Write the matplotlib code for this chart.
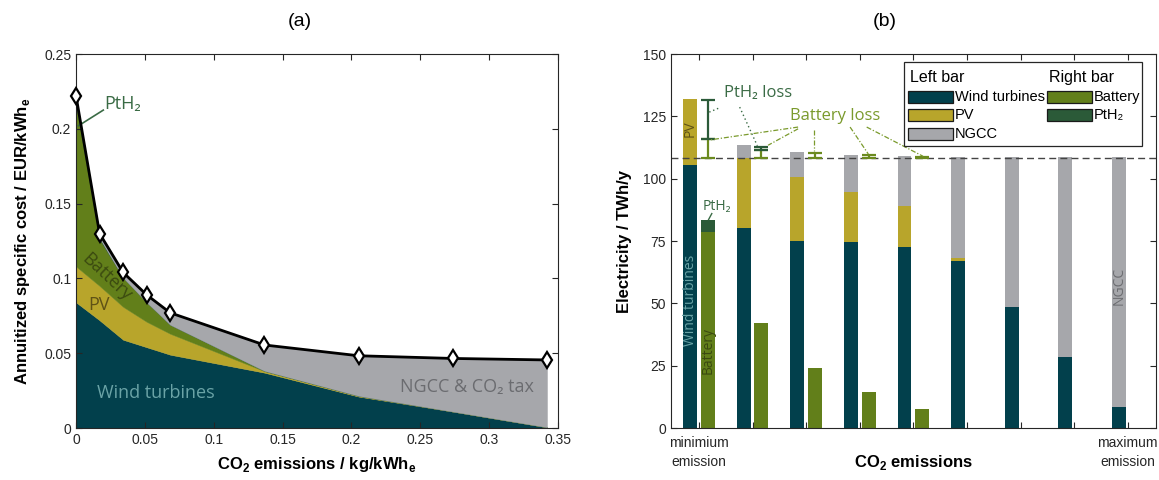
import matplotlib
matplotlib.use('Agg')
import matplotlib.pyplot as plt
from matplotlib.patches import Rectangle
from matplotlib.ticker import FormatStrFormatter
import numpy as np

plt.rcParams['font.family'] = ['Liberation Sans', 'DejaVu Sans']
plt.rcParams['mathtext.fontset'] = 'custom'
plt.rcParams['mathtext.rm'] = 'Liberation Sans'
plt.rcParams['mathtext.bf'] = 'Liberation Sans:bold'

LABEL_FONT = ['Open Sans', 'DejaVu Sans']

# colours
WIND = '#02404c'
PV = '#b8a52b'
NGCC = '#a6a7ab'
BATT = '#627f1a'
PTH2 = '#2b5a38'
BATT_LOSS = '#7a9a2c'
PTH2_TXT = '#3a6b45'
WIND_TXT = '#6aa3a6'
BATT_DARK = '#3b4a10'
PV_DARK = '#5f5216'
NGCC_TXT = '#6b6c70'

# ---- (a) specific cost vs CO2 emissions ----
emissions = [0.0, 0.0171, 0.0342, 0.0513, 0.0684, 0.1368, 0.2052, 0.2736, 0.342]
cost_wind = [0.084, 0.072, 0.059, 0.054, 0.049, 0.037, 0.021, 0.011, 0.0005]
cost_pv = [0.024, 0.023, 0.022, 0.017, 0.014, 0.001, 0.0005, 0.0, 0.0]
cost_battery = [0.108, 0.031, 0.0195, 0.013, 0.006, 0.0002, 0.0, 0.0, 0.0]
cost_pth2 = [0.004, 0.001, 0.0, 0.0, 0.0, 0.0, 0.0, 0.0, 0.0]
cost_ngcc_tax = [0.002, 0.003, 0.0035, 0.005, 0.008, 0.0173, 0.0268, 0.0355, 0.045]

# ---- (b) electricity per scenario ----
scenario_labels = ['minimium\nemission', '', '', '', '', '', '', '', 'maximum\nemission']
el_wind = [105.3, 80.3, 75.0, 74.5, 72.5, 67.0, 48.5, 28.5, 8.5]
el_pv = [26.5, 28.0, 25.5, 20.0, 16.5, 1.3, 0.0, 0.0, 0.0]
el_ngcc = [0.0, 5.2, 10.0, 15.0, 20.0, 40.2, 60.0, 80.0, 100.0]
el_battery = [78.7, 42.3, 24.0, 14.5, 7.5, 0.0, 0.0, 0.0, 0.0]
el_pth2 = [4.9, 0.0, 0.0, 0.0, 0.0, 0.0, 0.0, 0.0, 0.0]
demand = 108.3
loss_battery = [7.8, 3.0, 2.0, 1.2, 0.5, 0.0, 0.0, 0.0, 0.0]
loss_pth2 = [15.4, 1.5, 0.0, 0.0, 0.0, 0.0, 0.0, 0.0, 0.0]


def style_axes(ax):
    ax.tick_params(direction='in', top=True, right=True, labelsize=10,
                   length=4, width=0.8, colors='#262626')
    for s in ax.spines.values():
        s.set_linewidth(0.8)
        s.set_color('#262626')


def cost_panel(ax):
    x = np.array(emissions)
    layers = [cost_wind, cost_pv, cost_battery, cost_pth2, cost_ngcc_tax]
    cols = [WIND, PV, BATT, PTH2, NGCC]
    ax.stackplot(x, *layers, colors=cols, linewidth=0.3, edgecolor='face')
    total = np.sum(layers, axis=0)
    ax.plot(x, total, color='k', lw=2, marker='d', ms=8.5, mfc='white',
            mec='k', mew=1.6, clip_on=False, zorder=5)

    ax.set_xlim(0, 0.35)
    ax.set_ylim(0, 0.25)
    ax.set_xticks(np.arange(0, 0.351, 0.05))
    ax.set_yticks(np.arange(0, 0.251, 0.05))
    ax.xaxis.set_major_formatter(FormatStrFormatter('%g'))
    ax.yaxis.set_major_formatter(FormatStrFormatter('%g'))
    style_axes(ax)
    ax.set_xlabel(r'CO$_\mathbf{2}$ emissions / kg/kWh$_\mathbf{e}$',
                  fontsize=12, fontweight='bold', labelpad=6)
    ax.set_ylabel(r'Annuitized specific cost / EUR/kWh$_\mathbf{e}$',
                  fontsize=12, fontweight='bold', labelpad=9)

    ax.text(0.0577, 0.0233, 'Wind turbines', color=WIND_TXT, fontsize=13,
            family=LABEL_FONT, ha='center', va='center')
    ax.text(0.284, 0.0274, 'NGCC & CO\u2082 tax', color=NGCC_TXT, fontsize=13,
            family=LABEL_FONT, ha='center', va='center')
    ax.text(0.0167, 0.0823, 'PV', color=PV_DARK, fontsize=13,
            family=LABEL_FONT, ha='center', va='center')
    ax.text(0.022, 0.101, 'Battery', color=BATT_DARK, fontsize=13,
            family=LABEL_FONT, ha='center', va='center', rotation=-43)
    ax.text(0.0338, 0.2163, 'PtH\u2082', color=PTH2_TXT, fontsize=13,
            family=LABEL_FONT, ha='center', va='center')
    ax.plot([0.0198, 0.0017], [0.2125, 0.202], color=PTH2_TXT, lw=1.2)


def electricity_panel(ax):
    pos = np.arange(len(el_wind))
    w = 0.26
    dl, dr = -0.165, 0.165
    wind = np.array(el_wind)
    pv = np.array(el_pv)
    batt = np.array(el_battery)
    ax.bar(pos + dl, wind, w, color=WIND, lw=0)
    ax.bar(pos + dl, pv, w, bottom=wind, color=PV, lw=0)
    ax.bar(pos + dl, el_ngcc, w, bottom=wind + pv, color=NGCC, lw=0)
    ax.bar(pos + dr, batt, w, color=BATT, lw=0)
    ax.bar(pos + dr, el_pth2, w, bottom=batt, color=PTH2, lw=0)

    ax.axhline(demand, color='#444444', ls=(0, (5, 3)), lw=1, zorder=1)

    lb = np.array(loss_battery)
    lp = np.array(loss_pth2)
    m = lb > 0
    ax.errorbar(pos[m] + dr, np.full(m.sum(), demand),
                yerr=[np.zeros(m.sum()), lb[m]], fmt='none',
                ecolor='#6b8a1f', elinewidth=1.6, capsize=5, capthick=1.6)
    m = lp > 0
    ax.errorbar(pos[m] + dr, demand + lb[m],
                yerr=[np.zeros(m.sum()), lp[m]], fmt='none',
                ecolor=PTH2, elinewidth=1.6, capsize=5, capthick=1.6)

    # loss annotations
    ax.text(1.1, 134.3, 'PtH\u2082 loss', color=PTH2_TXT, fontsize=12,
            family=LABEL_FONT, ha='center', va='center')
    for (x0, y0), (x1, y1) in [((0.36, 128.2), (0.16, 126.4)),
                               ((0.76, 128.7), (1.09, 113.2))]:
        ax.plot([x0, x1], [y0, y1], color=PTH2_TXT, ls=(0, (1, 2)), lw=1)
    ax.text(2.54, 125.2, 'Battery loss', color=BATT_LOSS, fontsize=12,
            family=LABEL_FONT, ha='center', va='center')
    for (x0, y0), (x1, y1) in [((1.85, 120.7), (0.22, 115.6)),
                               ((1.85, 120.0), (1.29, 113.4)),
                               ((2.15, 119.4), (2.15, 111.0)),
                               ((2.82, 120.7), (3.16, 109.9)),
                               ((3.13, 120.7), (4.18, 109.0))]:
        ax.plot([x0, x1], [y0, y1], color=BATT_LOSS, ls=(0, (4, 1.5, 1, 1.5)),
                lw=0.9)

    # labels inside bars
    ax.text(dl, 51.3, 'Wind turbines', color=WIND_TXT, fontsize=10,
            family=LABEL_FONT, rotation=90, ha='center', va='center')
    ax.text(dr, 31.2, 'Battery', color=BATT_DARK, fontsize=10,
            family=LABEL_FONT, rotation=90, ha='center', va='center')
    ax.text(dl, 120.0, 'PV', color=PV_DARK, fontsize=10,
            family=LABEL_FONT, rotation=90, ha='center', va='center')
    ax.text(8 + dl, 57.0, 'NGCC', color=NGCC_TXT, fontsize=10,
            family=LABEL_FONT, rotation=90, ha='center', va='center')
    ax.text(0.33, 88.9, 'PtH\u2082', color=PTH2_TXT, fontsize=10,
            family=LABEL_FONT, ha='center', va='center')
    ax.plot([0.24, 0.18], [86.0, 83.6], color=PTH2_TXT, lw=1)

    ax.set_xlim(-0.52, 8.53)
    ax.set_ylim(0, 150)
    ax.set_yticks(np.arange(0, 151, 25))
    ax.set_xticks(pos)
    ax.set_xticklabels(scenario_labels, fontsize=10.5, linespacing=1.45)
    style_axes(ax)
    ax.tick_params(axis='x', pad=6)
    ax.set_xlabel(r'CO$_\mathbf{2}$ emissions', fontsize=12,
                  fontweight='bold', labelpad=-12)
    ax.set_ylabel('Electricity / TWh/y', fontsize=12, fontweight='bold',
                  labelpad=8)

    # legend, drawn by hand in axes fraction
    ax.add_patch(Rectangle((0.480, 0.754), 0.491, 0.225, transform=ax.transAxes,
                           facecolor='white', edgecolor='#262626', lw=0.9,
                           zorder=6))
    ax.text(0.493, 0.936, 'Left bar', transform=ax.transAxes, fontsize=11.5,
            va='center', zorder=7)
    ax.text(0.779, 0.936, 'Right bar', transform=ax.transAxes, fontsize=11.5,
            va='center', zorder=7)
    entries = [(0.489, 0.885, WIND, 'Wind turbines'),
               (0.489, 0.837, PV, 'PV'),
               (0.489, 0.786, NGCC, 'NGCC'),
               (0.775, 0.885, BATT, 'Battery'),
               (0.775, 0.837, PTH2, 'PtH\u2082')]
    for x0, y0, c, lab in entries:
        ax.add_patch(Rectangle((x0, y0 - 0.017), 0.092, 0.034,
                               transform=ax.transAxes, facecolor=c,
                               edgecolor='#1a1a1a', lw=0.9, zorder=7))
        ax.text(x0 + 0.096, y0, lab, transform=ax.transAxes, fontsize=10.5,
                va='center', zorder=7)


def main():
    fig = plt.figure(figsize=(11.59, 4.8), dpi=100)
    ax1 = fig.add_axes([0.0656, 0.1083, 0.4159, 0.7792])
    ax2 = fig.add_axes([0.5790, 0.1083, 0.4185, 0.7792])
    cost_panel(ax1)
    electricity_panel(ax2)
    fig.text(300 / 1159, 1 - 22 / 480, '(a)', fontsize=14, ha='center',
             va='center')
    fig.text(885 / 1159, 1 - 22 / 480, '(b)', fontsize=14, ha='center',
             va='center')
    fig.savefig('out.png', dpi=100)


if __name__ == '__main__':
    main()
